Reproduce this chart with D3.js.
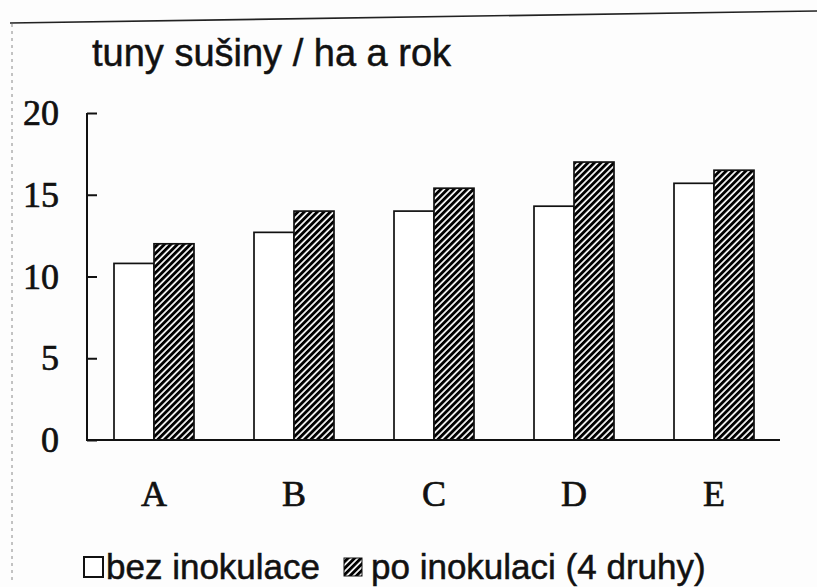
<!DOCTYPE html>
<html>
<head>
<meta charset="utf-8">
<script src="https://cdn.jsdelivr.net/npm/d3@7/dist/d3.min.js"></script>
<style>
  html, body { margin: 0; padding: 0; background: #fdfdfd; }
  svg { display: block; }
</style>
</head>
<body>
<svg id="chart" width="817" height="587"></svg>
<script>
// Dry-matter yield per hectare and year, without and with inoculation
const categories = ["A", "B", "C", "D", "E"];
const seriesNames = ["bez inokulace", "po inokulaci (4 druhy)"];
const withoutInoculation = [10.8, 12.7, 14.0, 14.3, 15.7];
const withInoculation = [12.0, 14.0, 15.4, 17.0, 16.5];
const yTicks = [0, 5, 10, 15, 20];
const titleText = "tuny sušiny / ha a rok";

const svg = d3.select("#chart");
const ink = "#111";
const sans = "'Liberation Sans', Arial, sans-serif";
const serif = "'Liberation Serif', 'Times New Roman', serif";

// page edges of the printed sheet
svg.append("line")
  .attr("x1", 10).attr("y1", 23).attr("x2", 817).attr("y2", 11)
  .attr("stroke", "#222").attr("stroke-width", 1.6);
svg.append("line")
  .attr("x1", 12).attr("y1", 24).attr("x2", 12).attr("y2", 580)
  .attr("stroke", "#888").attr("stroke-width", 1)
  .attr("stroke-dasharray", "3 4");

// diagonal hatch for the inoculated series
const defs = svg.append("defs");
const pat = defs.append("pattern")
  .attr("id", "hatch")
  .attr("patternUnits", "userSpaceOnUse")
  .attr("width", 4.6).attr("height", 4.6)
  .attr("patternTransform", "rotate(45)");
pat.append("rect").attr("width", 4.6).attr("height", 4.6).attr("fill", "#fff");
pat.append("rect").attr("width", 2.9).attr("height", 4.6).attr("fill", "#000");

const x0 = d3.scaleBand()
  .domain(categories)
  .range([84, 784])
  .paddingInner(0.4286)
  .paddingOuter(0.2143);

const x1 = d3.scaleBand()
  .domain([0, 1])
  .range([0, x0.bandwidth()]);

const y = d3.scaleLinear()
  .domain([0, 20])
  .range([440, 113]);

const rows = categories.map((c, i) => ({
  cat: c,
  vals: [withoutInoculation[i], withInoculation[i]]
}));

// bars
const groups = svg.append("g").selectAll("g")
  .data(rows).join("g")
  .attr("transform", d => `translate(${x0(d.cat)},0)`);

groups.selectAll("rect")
  .data(d => d.vals.map((v, k) => ({ v, k })))
  .join("rect")
  .attr("x", d => x1(d.k))
  .attr("y", d => y(d.v))
  .attr("width", x1.bandwidth())
  .attr("height", d => y(0) - y(d.v))
  .attr("fill", d => d.k === 0 ? "#fff" : "url(#hatch)")
  .attr("stroke", ink)
  .attr("stroke-width", 1.7);

// y axis with inward ticks
const yAxis = svg.append("g")
  .attr("transform", "translate(87,0)")
  .call(d3.axisLeft(y).tickValues(yTicks).tickSize(-10).tickPadding(28).tickFormat(d3.format("d")));
yAxis.select(".domain").attr("stroke", ink).attr("stroke-width", 2)
  .attr("d", `M0,${y(20)}V${y(0)}`);
yAxis.selectAll(".tick line").attr("stroke", ink).attr("stroke-width", 2);
yAxis.selectAll(".tick text")
  .attr("font-family", serif)
  .attr("font-size", 36).attr("fill", ink)
  .attr("stroke", ink).attr("stroke-width", 0.7);

// x baseline and category labels
const xAxis = svg.append("g")
  .attr("transform", `translate(0,${y(0)})`)
  .call(d3.axisBottom(x0).tickSize(0).tickPadding(40));
xAxis.select(".domain").attr("stroke", ink).attr("stroke-width", 2)
  .attr("d", "M86,0H780");
xAxis.selectAll(".tick text")
  .attr("font-family", serif)
  .attr("font-size", 36).attr("fill", ink)
  .attr("stroke", ink).attr("stroke-width", 0.7);

// title
svg.append("text")
  .attr("x", 92).attr("y", 66)
  .attr("font-family", sans)
  .attr("font-size", 38).attr("fill", ink)
  .attr("stroke", ink).attr("stroke-width", 0.5)
  .text(titleText);

// legend
const legend = svg.append("g");
legend.append("rect")
  .attr("x", 84).attr("y", 557).attr("width", 19).attr("height", 20)
  .attr("fill", "#fff").attr("stroke", ink).attr("stroke-width", 2);
legend.append("text")
  .attr("x", 106).attr("y", 579)
  .attr("font-family", sans)
  .attr("font-size", 35).attr("fill", ink)
  .attr("stroke", ink).attr("stroke-width", 0.5)
  .text(seriesNames[0]);
legend.append("rect")
  .attr("x", 344).attr("y", 558).attr("width", 18).attr("height", 18)
  .attr("fill", "url(#hatch)").attr("stroke", ink).attr("stroke-width", 1);
legend.append("text")
  .attr("x", 371).attr("y", 579)
  .attr("font-family", sans)
  .attr("font-size", 35).attr("fill", ink)
  .attr("stroke", ink).attr("stroke-width", 0.5)
  .text(seriesNames[1]);
</script>
</body>
</html>
